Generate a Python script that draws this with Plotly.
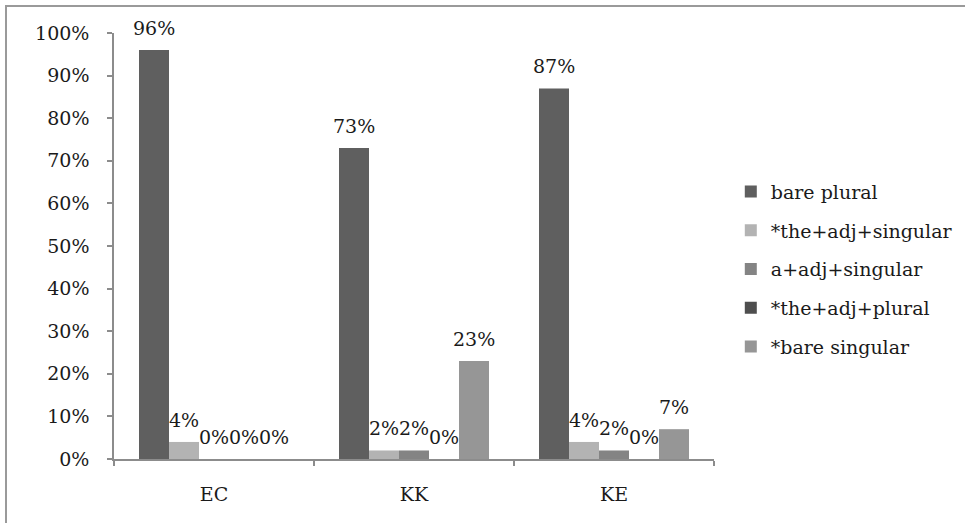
import plotly.graph_objects as go

# Share of each noun-phrase form produced by group
groups = ["EC", "KK", "KE"]
series_names = [
    "bare plural",
    "*the+adj+singular",
    "a+adj+singular",
    "*the+adj+plural",
    "*bare singular",
]
bare_plural = [0.96, 0.73, 0.87]
the_adj_singular = [0.04, 0.02, 0.04]
a_adj_singular = [0.00, 0.02, 0.02]
the_adj_plural = [0.00, 0.00, 0.00]
bare_singular = [0.00, 0.23, 0.07]
series_values = [bare_plural, the_adj_singular, a_adj_singular, the_adj_plural, bare_singular]

colors = ["#5f5f5f", "#b3b3b3", "#848484", "#4e4e4e", "#969696"]

FONT = "DejaVu Serif"
FSIZE = 19
TEXT = "#1a1a1a"
AXIS = "#8c8c8c"
BAR_PX = 30  # width of one bar in pixels within a group

fig = go.Figure()
for i, (name, vals) in enumerate(zip(series_names, series_values)):
    fig.add_trace(go.Bar(
        x=groups, y=vals, name=name,
        marker=dict(color=colors[i], line=dict(width=0)),
        legendgroup=name,
    ))
    # value labels over each bar
    for g, v in zip(groups, vals):
        fig.add_annotation(
            x=g, y=v, xref="x", yref="y",
            text=f"{round(v * 100)}%", showarrow=False,
            xshift=(i - 2) * BAR_PX, yshift=9, yanchor="bottom",
            font=dict(family=FONT, size=FSIZE, color=TEXT),
        )

# outer frame of the chart
fig.add_shape(
    type="rect", xref="paper", yref="paper",
    x0=(6 - 114) / 600, x1=(990 - 114) / 600,
    y0=(459 - 560) / 426, y1=(459 - 6) / 426,
    line=dict(color="#9a9a9a", width=2), fillcolor="rgba(0,0,0,0)", layer="below",
)

fig.update_layout(
    width=965, height=523,
    margin=dict(l=114, r=251, t=33, b=64, autoexpand=False),
    paper_bgcolor="white", plot_bgcolor="white",
    barmode="group", bargap=0.25, bargroupgap=0,
    font=dict(family=FONT, size=FSIZE, color=TEXT),
    showlegend=True,
    legend=dict(
        x=1.028, xanchor="left", y=0.672, yanchor="top",
        font=dict(family=FONT, size=FSIZE, color=TEXT),
        tracegroupgap=11, itemwidth=30,
        bgcolor="rgba(0,0,0,0)",
    ),
    xaxis=dict(
        type="category", showline=True, linecolor=AXIS, linewidth=1.5,
        ticks="outside", tickson="boundaries", ticklen=5, tickcolor=AXIS, tickwidth=1.5,
        ticklabelstandoff=17, showgrid=False, zeroline=False,
        tickfont=dict(family=FONT, size=FSIZE, color=TEXT),
    ),
    yaxis=dict(
        range=[0, 1], tickvals=[i / 10 for i in range(11)], tickformat=".0%",
        showline=True, linecolor=AXIS, linewidth=1.5,
        ticks="outside", ticklen=5, tickcolor=AXIS, tickwidth=1.5,
        ticklabelstandoff=14, showgrid=False, zeroline=False,
        tickfont=dict(family=FONT, size=FSIZE, color=TEXT),
    ),
)

fig.write_html("out.html")
